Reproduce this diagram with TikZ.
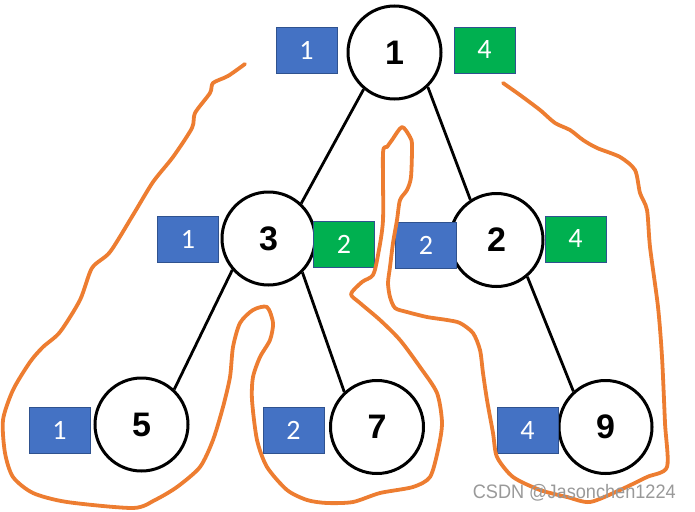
\documentclass[tikz,border=0pt]{standalone}
\usepackage{fontspec}
\setmainfont{Liberation Sans}
\newfontfamily\boxfont{Carlito}
\usepackage{xcolor}
\definecolor{boxblue}{HTML}{4472C4}
\definecolor{boxgreen}{HTML}{00B050}
\definecolor{boxedge}{HTML}{2F528F}
\definecolor{penorange}{HTML}{ED7D31}
\usetikzlibrary{positioning}

\begin{document}
\begin{tikzpicture}[x=1pt,y=-1pt,
		treenode/.style={circle, draw=black, line width=3pt, minimum size=93pt, inner sep=0pt, fill=white, font=\fontsize{34}{34}\selectfont\bfseries},
		bluebox/.style={rectangle, draw=boxedge, fill=boxblue, line width=0.8pt, minimum width=61pt, minimum height=46pt, inner sep=0pt, text=white, font=\boxfont\fontsize{28}{28}\selectfont},
		greenbox/.style={bluebox, fill=boxgreen},
		edge/.style={line width=2.8pt, black}]
				\useasboundingbox (0,0) rectangle (695,511);
				
				%nodes
				\node[treenode] (n1) at (394.5,52.5) {1};
				\node[treenode] (n3) at (268.5,238.5) {3};
				\node[treenode] (n2) at (496.5,240) {2};
				\node[treenode] (n5) at (141.5,424.5) {5};
				\node[treenode] (n7) at (377,427) {7};
				\node[treenode] (n9) at (605.5,427) {9};
				
				%boxes
				\node[bluebox] (b1) at (306.5,50) {1};
				\node[greenbox] (g1) at (484.5,50) {4};
				\node[bluebox] (b3) at (188,239) {1};
				\node[greenbox] (g3) at (344,244) {2};
				\node[bluebox] (b2) at (426,245.5) {2};
				\node[greenbox] (g2) at (575.5,239) {4};
				\node[bluebox] (b5) at (59.5,430.5) {1};
				\node[bluebox] (b7) at (293.5,430.5) {2};
				\node[bluebox] (b9) at (527.5,430.5) {4};
				
				%edges
				\draw[edge] (n1.230) -- (n3.47);
				\draw[edge] (n1.314) -- (n2.123);
				\draw[edge] (n3.221) -- (n5.47);
				\draw[edge] (n3.315) -- (n7.133);
				\draw[edge] (n2.310) -- (n9.132);
				
				%orange line
				\draw[penorange, line width=3.8pt, line cap=round, line join=round] plot[smooth, tension=0.45] coordinates {
					(245,64) (228,76) (213,83) (210,93) (195,113) (192,128) (173,157) (153,182) (133,215) (110,252) (92,268) (80,300)
					(60,332) (43,347) (30,362) (13,390) (3,420) (5,453) (13,477) (33,493) (67,502) (133,508) (155,500) (177,487)
					(200,467) (213,440) (223,407) (230,377) (233,347) (240,323) (253,310) (267,307) (273,323) (270,340) (260,357)
					(253,377) (252,400) (257,440) (267,467) (287,490) (307,500) (327,503) (353,502) (380,493) (413,487) (430,477)
					(438,450) (442,423) (437,393) (420,367) (400,340) (380,320) (360,303) (351,294) (362,282) (373,275) (378,255)
					(383,220) (383,153) (387,147) (392,140) (402,127) (410,137) (412,145) (411,177) (407,190) (400,200) (397,220)
					(393,243) (390,267) (388,283) (390,297) (395,308) (407,312) (427,317) (447,320) (460,323) (473,333) (480,350)
					(483,373) (487,400) (493,433) (497,457) (513,477) (540,490) (567,497) (590,502) (620,490) (647,477) (667,467)
					(665,423) (662,357) (658,307) (650,247) (647,210) (640,193) (635,170) (620,157) (597,148) (583,140) (570,130)
					(555,123) (540,110) (520,95) (503,83)};
				
				%watermark
				\node[gray!80, font=\fontsize{19.5}{19.5}\selectfont, xscale=0.93, anchor=south east] (wm) at (679,505) {CSDN @Jasonchen1224};
\end{tikzpicture}
\end{document}
